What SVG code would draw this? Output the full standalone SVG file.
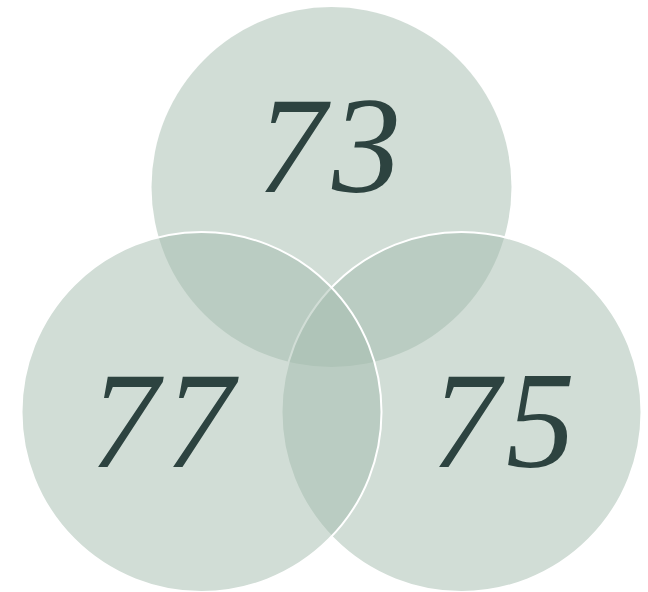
<svg xmlns="http://www.w3.org/2000/svg" width="648" height="592" viewBox="0 0 648 592">
<style>
.set{fill:#a3bbad;fill-opacity:0.5}
.edge{stroke:#ffffff;stroke-width:2}
.lbl{font-family:"Liberation Serif","DejaVu Serif",serif;font-style:italic;font-size:138px;fill:#2d4340;text-anchor:middle}
</style>
<rect width="648" height="592" fill="#ffffff"/>
<g id="set-73">
<circle class="set" cx="331.5" cy="187" r="180"/>
</g>
<g id="set-75">
<circle class="set edge" cx="461.5" cy="412" r="180"/>
</g>
<g id="set-77">
<circle class="set edge" cx="201.5" cy="412" r="180"/>
</g>
<g id="labels">
<text class="lbl" x="332" y="192" letter-spacing="6">73</text>
<text class="lbl" x="165" y="467" letter-spacing="6">77</text>
<text class="lbl" x="506" y="467" letter-spacing="6">75</text>
</g>
<g id="connectors"></g>
</svg>
